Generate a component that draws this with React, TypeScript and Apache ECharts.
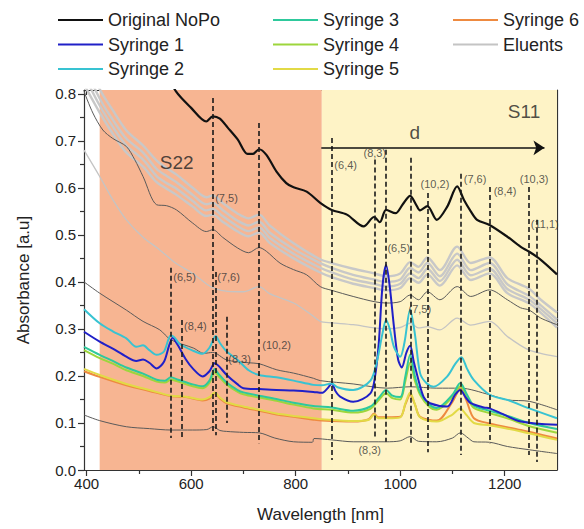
import React, { useEffect, useRef } from 'react';
import * as echarts from 'echarts';

const FONT = '"Liberation Sans", Arial, Helvetica, sans-serif';

// ---------- data: [wavelength nm, absorbance] ----------
const originalNoPo = [[545,0.86],[571,0.805],[600,0.77],[629,0.741],[641.5,0.752],[655,0.747],[670,0.728],[689,0.703],[708,0.672],[718,0.672],[730,0.682],[744,0.670],[763,0.635],[782,0.61],[796,0.601],[821,0.592],[847,0.568],[869,0.553],[898,0.543],[930,0.518],[950,0.538],[961,0.527],[973,0.553],[991,0.546],[1005,0.565],[1019,0.583],[1030,0.565],[1038,0.552],[1052,0.561],[1070,0.532],[1090,0.56],[1109,0.603],[1122,0.574],[1135,0.55],[1147,0.532],[1171,0.521],[1205,0.496],[1230,0.475],[1247,0.464],[1269,0.447],[1300,0.416]];

const syringe1 = [[395,0.294],[425,0.273],[450,0.258],[476,0.241],[495,0.232],[508,0.235],[520,0.228],[534,0.216],[548,0.23],[558,0.265],[565,0.282],[572,0.27],[578,0.259],[590,0.235],[603,0.216],[622,0.199],[635,0.21],[645,0.227],[652,0.222],[668,0.202],[689,0.182],[700,0.174],[730,0.172],[763,0.170],[796,0.169],[834,0.166],[850,0.164],[862,0.175],[869,0.184],[876,0.168],[885,0.156],[910,0.145],[943,0.163],[952,0.2],[959,0.27],[966,0.39],[973,0.436],[980,0.39],[988,0.305],[996,0.235],[1003,0.218],[1012,0.25],[1019,0.264],[1026,0.23],[1035,0.191],[1045,0.155],[1057,0.142],[1090,0.135],[1105,0.16],[1115,0.170],[1125,0.155],[1135,0.142],[1160,0.133],[1171,0.131],[1192,0.121],[1231,0.103],[1300,0.096]];

const syringe2 = [[395,0.342],[425,0.312],[450,0.295],[476,0.280],[495,0.262],[508,0.265],[520,0.255],[534,0.245],[548,0.252],[561,0.286],[568,0.282],[578,0.268],[603,0.254],[622,0.247],[635,0.26],[647,0.285],[655,0.27],[668,0.252],[689,0.234],[710,0.212],[730,0.202],[763,0.197],[796,0.19],[834,0.181],[850,0.18],[869,0.184],[880,0.176],[910,0.170],[943,0.19],[956,0.234],[966,0.29],[973,0.319],[980,0.30],[988,0.262],[1000,0.241],[1008,0.27],[1019,0.341],[1028,0.29],[1038,0.206],[1050,0.185],[1064,0.177],[1090,0.199],[1105,0.225],[1117,0.240],[1128,0.215],[1141,0.191],[1171,0.160],[1205,0.149],[1247,0.131],[1300,0.110]];

const syringe3 = [[395,0.262],[425,0.245],[450,0.232],[476,0.218],[508,0.205],[534,0.192],[550,0.19],[561,0.197],[575,0.192],[603,0.182],[622,0.178],[635,0.19],[645,0.215],[652,0.205],[668,0.186],[689,0.17],[700,0.165],[730,0.158],[763,0.151],[796,0.143],[834,0.136],[869,0.133],[910,0.126],[943,0.135],[960,0.155],[973,0.17],[985,0.158],[1000,0.155],[1010,0.2],[1019,0.245],[1028,0.2],[1038,0.165],[1055,0.14],[1070,0.132],[1100,0.16],[1115,0.185],[1128,0.16],[1141,0.137],[1171,0.126],[1205,0.115],[1247,0.1],[1300,0.087]];

const syringe4 = [[395,0.255],[425,0.238],[450,0.226],[476,0.212],[508,0.2],[534,0.188],[550,0.186],[561,0.192],[575,0.188],[603,0.178],[622,0.174],[635,0.185],[645,0.208],[652,0.2],[668,0.182],[689,0.166],[700,0.161],[730,0.154],[763,0.147],[796,0.139],[834,0.131],[869,0.128],[910,0.122],[943,0.13],[960,0.15],[973,0.163],[985,0.153],[1000,0.15],[1010,0.19],[1019,0.228],[1028,0.19],[1038,0.16],[1055,0.135],[1070,0.128],[1100,0.155],[1115,0.178],[1128,0.155],[1141,0.132],[1171,0.121],[1205,0.11],[1247,0.093],[1300,0.079]];

const syringe5 = [[395,0.215],[425,0.202],[476,0.183],[520,0.17],[561,0.158],[590,0.156],[622,0.15],[635,0.155],[645,0.165],[655,0.154],[668,0.144],[700,0.135],[730,0.128],[763,0.12],[796,0.115],[834,0.11],[850,0.108],[910,0.104],[940,0.107],[950,0.118],[958,0.11],[975,0.11],[1000,0.112],[1010,0.142],[1019,0.165],[1028,0.14],[1038,0.112],[1070,0.103],[1100,0.118],[1115,0.131],[1126,0.118],[1141,0.1],[1171,0.095],[1231,0.082],[1300,0.064]];

const syringe6 = [[395,0.21],[425,0.198],[476,0.18],[520,0.168],[561,0.157],[590,0.155],[622,0.148],[635,0.152],[645,0.163],[655,0.152],[668,0.142],[700,0.133],[730,0.126],[763,0.118],[796,0.113],[834,0.107],[850,0.105],[910,0.103],[940,0.108],[950,0.12],[958,0.112],[975,0.112],[1000,0.113],[1010,0.14],[1019,0.16],[1028,0.14],[1038,0.113],[1070,0.105],[1100,0.145],[1115,0.172],[1126,0.15],[1141,0.11],[1171,0.099],[1231,0.085],[1300,0.067]];

const eluent1 = [[395,0.90],[425,0.81],[450,0.765],[476,0.722],[508,0.69],[534,0.658],[553,0.642],[572,0.628],[603,0.60],[629,0.58],[641.5,0.584],[660,0.568],[689,0.545],[710,0.535],[730,0.543],[750,0.52],[796,0.482],[847,0.448],[869,0.44],[910,0.428],[950,0.418],[973,0.412],[1000,0.418],[1019,0.442],[1035,0.432],[1052,0.452],[1076,0.425],[1109,0.475],[1135,0.44],[1171,0.452],[1205,0.408],[1247,0.385],[1269,0.362],[1300,0.335]];
const eluent2 = [[395,0.86],[425,0.79],[450,0.745],[476,0.705],[508,0.675],[534,0.64],[553,0.625],[572,0.612],[603,0.585],[629,0.565],[641.5,0.568],[660,0.553],[689,0.53],[710,0.52],[730,0.528],[750,0.505],[796,0.47],[847,0.44],[869,0.43],[910,0.415],[950,0.405],[973,0.40],[1000,0.405],[1019,0.43],[1035,0.42],[1052,0.44],[1076,0.412],[1109,0.46],[1135,0.425],[1171,0.44],[1205,0.395],[1247,0.37],[1269,0.35],[1300,0.32]];
const eluent3 = [[395,0.84],[425,0.775],[450,0.73],[476,0.69],[508,0.66],[534,0.625],[553,0.61],[572,0.598],[603,0.572],[629,0.552],[641.5,0.555],[660,0.54],[689,0.518],[710,0.508],[730,0.516],[750,0.494],[796,0.46],[847,0.43],[869,0.42],[910,0.405],[950,0.396],[973,0.39],[1000,0.396],[1019,0.418],[1035,0.408],[1052,0.428],[1076,0.402],[1109,0.447],[1135,0.414],[1171,0.428],[1205,0.385],[1247,0.362],[1269,0.342],[1300,0.312]];
const eluent4 = [[395,0.82],[425,0.76],[450,0.715],[476,0.675],[508,0.645],[534,0.612],[553,0.598],[572,0.585],[603,0.56],[629,0.54],[641.5,0.543],[660,0.528],[689,0.507],[710,0.497],[730,0.505],[750,0.483],[796,0.45],[847,0.42],[869,0.41],[910,0.396],[950,0.387],[973,0.382],[1000,0.387],[1019,0.408],[1035,0.398],[1052,0.416],[1076,0.392],[1109,0.435],[1135,0.404],[1171,0.418],[1205,0.376],[1247,0.354],[1269,0.334],[1300,0.303]];
const eluentLight = [[395,0.68],[425,0.624],[450,0.575],[476,0.532],[508,0.495],[540,0.468],[570,0.44],[603,0.418],[630,0.395],[647,0.385],[670,0.38],[700,0.379],[730,0.39],[750,0.375],[796,0.355],[830,0.33],[847,0.316],[869,0.313],[910,0.309],[950,0.302],[973,0.30],[1000,0.303],[1019,0.312],[1035,0.302],[1052,0.305],[1076,0.298],[1109,0.323],[1135,0.308],[1171,0.316],[1205,0.284],[1230,0.265],[1247,0.255],[1269,0.248],[1300,0.241]];

const refTop = [[395,0.805],[412,0.759],[431,0.723],[450,0.705],[476,0.688],[492,0.66],[508,0.624],[534,0.564],[553,0.562],[572,0.553],[603,0.525],[629,0.507],[641.5,0.511],[660,0.495],[689,0.472],[710,0.462],[730,0.473],[744,0.465],[770,0.44],[796,0.426],[821,0.415],[847,0.39],[869,0.382],[910,0.369],[950,0.358],[973,0.355],[1000,0.358],[1019,0.372],[1035,0.362],[1052,0.379],[1076,0.362],[1109,0.39],[1135,0.369],[1171,0.383],[1205,0.362],[1230,0.345],[1247,0.340],[1269,0.323],[1300,0.309]];
const refMid = [[395,0.40],[425,0.376],[476,0.34],[508,0.316],[540,0.298],[561,0.277],[605,0.259],[624,0.248],[641.5,0.25],[668,0.234],[710,0.228],[730,0.226],[764,0.213],[796,0.206],[834,0.195],[847,0.19],[910,0.183],[975,0.174],[1019,0.177],[1070,0.174],[1115,0.174],[1171,0.16],[1205,0.149],[1247,0.146],[1300,0.128]];
const refBottom = [[395,0.117],[425,0.105],[476,0.092],[520,0.088],[561,0.085],[603,0.085],[630,0.086],[642,0.092],[655,0.084],[668,0.082],[700,0.080],[730,0.079],[760,0.068],[796,0.060],[832,0.059],[835,0.067],[869,0.064],[910,0.060],[973,0.060],[1000,0.062],[1019,0.071],[1035,0.061],[1070,0.060],[1100,0.068],[1115,0.079],[1130,0.068],[1141,0.06],[1171,0.059],[1205,0.05],[1247,0.043],[1300,0.035]];

// chirality marker lines
const tubeNm = [561.6, 582, 641.5, 647.3, 668.4, 730.3, 868.3, 950.7, 973.1, 1019.7, 1052.9, 1115.6, 1171.1, 1246.5, 1261.2];
const tubeTop = [0.430, 0.319, 0.791, 0.421, 0.326, 0.738, 0.706, 0.660, 0.681, 0.664, 0.589, 0.630, 0.602, 0.602, 0.532];
const tubeBottom = [0.068, 0.070, 0.079, 0.074, 0.100, 0.057, 0.021, 0.070, 0.060, 0.057, 0.038, 0.032, 0.057, 0.032, 0.017];

// chirality labels
const tubeLabels = ['(6,5)', '(8,4)', '(7,5)', '(7,6)', '(8,3)', '(10,2)', '(6,4)', '(8,3)', '(6,5)', '(7,5)', '(10,2)', '(7,6)', '(8,4)', '(10,3)', '(11,1)', '(8,3)'];
const tubeLabelNm = [565.7, 586.5, 646, 650, 671, 736, 874, 929.7, 975.6, 1015.9, 1039, 1121.6, 1178.9, 1228.7, 1249.8, 920];
const tubeLabelAbs = [0.411, 0.306, 0.579, 0.411, 0.236, 0.266, 0.649, 0.674, 0.472, 0.343, 0.609, 0.619, 0.594, 0.619, 0.523, 0.043];

// region annotations
const regionText = ['S22', 'S11', 'd'];
const regionNm = [540, 1206, 1018];
const regionAbs = [0.653, 0.762, 0.717];
const arrowStart = [849, 0.685];
const arrowEnd = [1276, 0.685];
const s22Band = [425, 850];
const s11Band = [850, 1300];

const xLabels = [400, 600, 800, 1000, 1200];
const xMinor = [500, 700, 900, 1100];
const xTop = [400, 500, 600, 700, 800, 900, 1000, 1100, 1200];
const yLabels = [0, 0.1, 0.2, 0.3, 0.4, 0.5, 0.6, 0.7, 0.8];
const yMinor = [0.05, 0.15, 0.25, 0.35, 0.45, 0.55, 0.65, 0.75];
const yRight = [0.05, 0.1, 0.15, 0.2, 0.25, 0.3, 0.35, 0.4, 0.45, 0.5, 0.55, 0.6, 0.65, 0.7, 0.75, 0.8];

const AX = '#333';

function line(name: string, data: number[][], color: string, width: number, z = 2) {
  return {
    type: 'line', name, data, z,
    smooth: 0.3, showSymbol: false, symbol: 'none', silent: true,
    lineStyle: { color, width }, itemStyle: { color },
    emphasis: { disabled: true },
  };
}

export default function App() {
  const ref = useRef<HTMLDivElement>(null);
  useEffect(() => {
    const chart = echarts.init(ref.current!, null, { renderer: 'svg' });
    const legendBase = {
      orient: 'vertical', itemWidth: 45, itemHeight: 2, icon: 'rect', itemGap: 4.5, top: 10, padding: 0,
      selectedMode: false,
      textStyle: { fontSize: 18, color: '#222', fontFamily: FONT, lineHeight: 20 },
    };
    const option: any = {
      animation: false,
      backgroundColor: '#fff',
      textStyle: { fontFamily: FONT },
      grid: { left: 84, right: 27, top: 90, bottom: 59, containLabel: false },
      legend: [
        { ...legendBase, left: 58, data: ['Original NoPo', 'Syringe 1', 'Syringe 2'] },
        { ...legendBase, left: 273, data: ['Syringe 3', 'Syringe 4', 'Syringe 5'] },
        { ...legendBase, left: 453, data: ['Syringe 6', 'Eluents'] },
      ],
      xAxis: [
        {
          type: 'value', min: 395, max: 1300, position: 'bottom',
          name: 'Wavelength [nm]', nameLocation: 'middle', nameGap: 36,
          nameTextStyle: { fontSize: 17, color: '#222', fontFamily: FONT },
          axisLine: { show: true, onZero: false, lineStyle: { color: AX, width: 1.2 } },
          axisTick: { show: true, length: 6, customValues: xLabels, lineStyle: { color: AX, width: 1.2 } },
          axisLabel: { customValues: xLabels, fontSize: 15, color: '#222', margin: 6, fontFamily: FONT,
            formatter: (v: number) => String(v) },
          splitLine: { show: false },
        },
        {
          type: 'value', min: 395, max: 1300, position: 'bottom',
          axisLine: { show: false },
          axisTick: { show: true, length: 4, customValues: xMinor, lineStyle: { color: AX, width: 1.2 } },
          axisLabel: { show: false }, splitLine: { show: false },
        },
        {
          type: 'value', min: 395, max: 1300, position: 'top',
          axisLine: { show: true, onZero: false, lineStyle: { color: AX, width: 1.2 } },
          axisTick: { show: true, inside: true, length: 5, customValues: xTop, lineStyle: { color: AX, width: 1.2 } },
          axisLabel: { show: false }, splitLine: { show: false },
        },
      ],
      yAxis: [
        {
          type: 'value', min: 0, max: 0.808, position: 'left',
          name: 'Absorbance [a.u]', nameLocation: 'middle', nameGap: 52,
          nameTextStyle: { fontSize: 17, color: '#222', fontFamily: FONT },
          axisLine: { show: true, onZero: false, lineStyle: { color: AX, width: 1.2 } },
          axisTick: { show: true, length: 6, customValues: yLabels, lineStyle: { color: AX, width: 1.2 } },
          axisLabel: { customValues: yLabels, fontSize: 15, color: '#222', margin: 8, fontFamily: FONT,
            formatter: (v: number) => v.toFixed(1) },
          splitLine: { show: false },
        },
        {
          type: 'value', min: 0, max: 0.808, position: 'left',
          axisLine: { show: false },
          axisTick: { show: true, length: 4, customValues: yMinor, lineStyle: { color: AX, width: 1.2 } },
          axisLabel: { show: false }, splitLine: { show: false },
        },
        {
          type: 'value', min: 0, max: 0.808, position: 'right',
          axisLine: { show: true, onZero: false, lineStyle: { color: AX, width: 1.2 } },
          axisTick: { show: true, inside: true, length: 5, customValues: yRight, lineStyle: { color: AX, width: 1.2 } },
          axisLabel: { show: false }, splitLine: { show: false },
        },
      ],
      series: [
        {
          type: 'line', name: 'bands', data: [], z: 1, silent: true,
          markArea: {
            silent: true,
            data: [
              [{ xAxis: s22Band[0], itemStyle: { color: '#F7B592' } }, { xAxis: s22Band[1] }],
              [{ xAxis: s11Band[0], itemStyle: { color: '#FEF3C6' } }, { xAxis: s11Band[1] }],
            ],
          },
        },
        line('Eluents', eluentLight, '#c4c4c4', 1.3),
        line('Eluents', eluent4, '#c8c8c8', 2.4),
        line('Eluents', eluent3, '#c8c8c8', 2.4),
        line('Eluents', eluent2, '#c8c8c8', 2.4),
        line('Eluents', eluent1, '#c8c8c8', 2.4),
        line('ref top', refTop, '#5a5a5a', 1),
        line('ref mid', refMid, '#5a5a5a', 1),
        line('ref bottom', refBottom, '#5a5a5a', 1),
        line('Syringe 6', syringe6, '#ee8a40', 2),
        line('Syringe 5', syringe5, '#e2da46', 2),
        line('Syringe 4', syringe4, '#9dd63c', 2),
        line('Syringe 3', syringe3, '#2ec99c', 2),
        line('Syringe 1', syringe1, '#2020c8', 2),
        line('Syringe 2', syringe2, '#38c3d2', 2),
        line('Original NoPo', originalNoPo, '#111111', 2.2),
        {
          type: 'line', name: 'markers', data: [], z: 3, silent: true,
          markLine: {
            silent: true, symbol: ['none', 'none'], label: { show: false },
            lineStyle: { type: [5, 3], color: '#1a1a1a', width: 1.6 },
            data: tubeNm.map((nm, i) => [{ coord: [nm, tubeTop[i]] }, { coord: [nm, tubeBottom[i]] }]),
          },
        },
        {
          type: 'line', name: 'arrow', data: [], z: 3, silent: true,
          markLine: {
            silent: true, symbol: ['none', 'arrow'], symbolSize: 11, label: { show: false },
            lineStyle: { type: 'solid', color: '#111', width: 1.5 },
            data: [[{ coord: arrowStart }, { coord: arrowEnd }]],
          },
        },
        {
          type: 'scatter', name: 'tube labels', z: 4, silent: true, symbolSize: 0,
          data: tubeLabelNm.map((nm, i) => [nm, tubeLabelAbs[i]]),
          label: {
            show: true, position: 'right', distance: 0, fontSize: 11, color: '#333', fontFamily: FONT,
            formatter: (p: any) => tubeLabels[p.dataIndex],
          },
        },
        {
          type: 'scatter', name: 'regions', z: 4, silent: true, symbolSize: 0,
          data: regionNm.map((nm, i) => [nm, regionAbs[i]]),
          label: {
            show: true, position: 'right', distance: 0, fontSize: 19, color: '#222', fontFamily: FONT,
            formatter: (p: any) => regionText[p.dataIndex],
          },
        },
      ],
    };
    chart.setOption(option);
    return () => chart.dispose();
  }, []);
  return <div ref={ref} style={{ position: 'fixed', left: 0, top: 0, width: 584, height: 529, background: '#fff' }} />;
}
